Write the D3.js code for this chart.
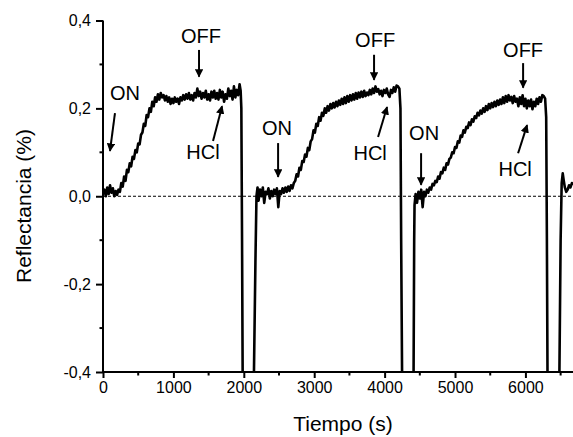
<!DOCTYPE html>
<html>
<head>
<meta charset="utf-8">
<script src="https://cdn.jsdelivr.net/npm/d3@7"></script>
<style>
  body { margin: 0; background: #fff; }
  svg { display: block; font-family: "Liberation Sans", Arial, sans-serif; }
</style>
</head>
<body>
<div id="chart"></div>
<script>
// Reflectance traces, [time (s), reflectance (%)], one array per ON/OFF cycle
const cycle1 = [
  [0, 0.005], [20, 0.015], [40, 0.0], [60, 0.02], [80, 0.005], [100, 0.025], [120, 0.008], [140, 0.018],
  [160, 0.0], [180, 0.012], [200, 0.003], [220, 0.015], [240, 0.01], [260, 0.03], [280, 0.022], [300, 0.045],
  [320, 0.035], [340, 0.06], [360, 0.055], [380, 0.075], [400, 0.068], [420, 0.09], [440, 0.085], [460, 0.105],
  [480, 0.1], [500, 0.12], [520, 0.118], [540, 0.14], [560, 0.145], [580, 0.165], [600, 0.16], [620, 0.185],
  [640, 0.18], [660, 0.2], [680, 0.192], [700, 0.215], [720, 0.205], [740, 0.225], [760, 0.215], [780, 0.232],
  [800, 0.22], [820, 0.235], [840, 0.225], [860, 0.23], [880, 0.218], [900, 0.228], [920, 0.215], [940, 0.225],
  [960, 0.21], [980, 0.222], [1000, 0.212], [1020, 0.225], [1040, 0.215], [1060, 0.222], [1080, 0.21], [1100, 0.225],
  [1120, 0.218], [1140, 0.23], [1160, 0.22], [1180, 0.232], [1200, 0.222], [1220, 0.235], [1240, 0.22], [1260, 0.23],
  [1280, 0.218], [1300, 0.235], [1320, 0.225], [1340, 0.245], [1360, 0.228], [1380, 0.238], [1400, 0.222], [1420, 0.235],
  [1440, 0.225], [1460, 0.24], [1480, 0.22], [1500, 0.232], [1520, 0.218], [1540, 0.238], [1560, 0.225], [1580, 0.24],
  [1600, 0.222], [1620, 0.235], [1640, 0.22], [1660, 0.242], [1680, 0.225], [1700, 0.238], [1720, 0.215], [1740, 0.232],
  [1760, 0.222], [1780, 0.245], [1800, 0.228], [1820, 0.24], [1840, 0.22], [1860, 0.25], [1880, 0.225], [1900, 0.242],
  [1920, 0.23], [1940, 0.255], [1955, 0.24], [1965, 0.2], [1975, -0.1], [1985, -0.45]
];
const cycle2 = [
  [2140, -0.45], [2165, -0.15], [2180, 0.0], [2195, 0.02], [2210, -0.01], [2230, 0.015], [2250, 0.0], [2270, 0.02],
  [2290, -0.015], [2310, 0.01], [2330, 0.005], [2350, 0.018], [2370, -0.005], [2390, 0.012], [2410, 0.0], [2430, 0.015],
  [2450, 0.005], [2470, 0.018], [2490, -0.025], [2510, 0.012], [2530, 0.005], [2550, 0.018], [2570, 0.008], [2590, 0.02],
  [2610, 0.01], [2630, 0.022], [2650, 0.012], [2670, 0.025], [2690, 0.018], [2710, 0.03], [2730, 0.035], [2750, 0.05],
  [2770, 0.045], [2790, 0.065], [2810, 0.06], [2830, 0.08], [2850, 0.078], [2870, 0.095], [2890, 0.09], [2910, 0.11],
  [2930, 0.105], [2950, 0.125], [2970, 0.13], [2990, 0.15], [3010, 0.145], [3030, 0.165], [3050, 0.16], [3070, 0.18],
  [3090, 0.172], [3110, 0.19], [3130, 0.183], [3150, 0.2], [3170, 0.19], [3190, 0.205], [3210, 0.195], [3230, 0.21],
  [3250, 0.2], [3270, 0.212], [3290, 0.202], [3310, 0.215], [3330, 0.205], [3350, 0.218], [3370, 0.208], [3390, 0.222],
  [3410, 0.21], [3430, 0.225], [3450, 0.212], [3470, 0.228], [3490, 0.215], [3510, 0.23], [3530, 0.218], [3550, 0.232],
  [3570, 0.22], [3590, 0.235], [3610, 0.222], [3630, 0.236], [3650, 0.225], [3670, 0.238], [3690, 0.226], [3710, 0.24],
  [3730, 0.228], [3750, 0.236], [3770, 0.23], [3790, 0.242], [3810, 0.232], [3830, 0.245], [3850, 0.235], [3870, 0.25],
  [3890, 0.238], [3910, 0.244], [3930, 0.232], [3950, 0.24], [3970, 0.228], [3990, 0.242], [4010, 0.235], [4030, 0.245],
  [4050, 0.232], [4070, 0.226], [4090, 0.242], [4110, 0.235], [4130, 0.248], [4150, 0.238], [4170, 0.252], [4190, 0.25],
  [4210, 0.245], [4225, 0.2], [4235, -0.1], [4250, -0.45]
];
const cycle3 = [
  [4410, -0.45], [4420, -0.1], [4425, -0.02], [4440, 0.005], [4460, -0.015], [4480, 0.01], [4500, -0.005], [4520, 0.015],
  [4540, -0.025], [4560, 0.01], [4580, 0.0], [4600, 0.015], [4620, 0.008], [4640, 0.02], [4660, 0.015], [4680, 0.028],
  [4700, 0.025], [4720, 0.035], [4740, 0.032], [4760, 0.045], [4780, 0.04], [4800, 0.055], [4820, 0.052], [4840, 0.065],
  [4860, 0.06], [4880, 0.075], [4900, 0.072], [4920, 0.085], [4940, 0.088], [4960, 0.1], [4980, 0.098], [5000, 0.112],
  [5020, 0.11], [5040, 0.125], [5060, 0.122], [5080, 0.138], [5100, 0.135], [5120, 0.15], [5140, 0.145], [5160, 0.158],
  [5180, 0.155], [5200, 0.168], [5220, 0.162], [5240, 0.175], [5260, 0.17], [5280, 0.182], [5300, 0.178], [5320, 0.19],
  [5340, 0.184], [5360, 0.195], [5380, 0.188], [5400, 0.2], [5420, 0.192], [5440, 0.205], [5460, 0.196], [5480, 0.21],
  [5500, 0.2], [5520, 0.212], [5540, 0.203], [5560, 0.215], [5580, 0.205], [5600, 0.218], [5620, 0.208], [5640, 0.22],
  [5660, 0.21], [5680, 0.225], [5700, 0.212], [5720, 0.228], [5740, 0.215], [5760, 0.23], [5780, 0.218], [5800, 0.226],
  [5820, 0.212], [5840, 0.228], [5860, 0.215], [5880, 0.222], [5900, 0.205], [5920, 0.225], [5940, 0.21], [5960, 0.23],
  [5980, 0.205], [6000, 0.222], [6020, 0.2], [6040, 0.218], [6060, 0.205], [6080, 0.22], [6100, 0.198], [6120, 0.215],
  [6140, 0.205], [6160, 0.222], [6180, 0.21], [6200, 0.225], [6220, 0.215], [6240, 0.23], [6260, 0.228], [6280, 0.222],
  [6295, 0.18], [6305, -0.1], [6315, -0.45]
];
const cycle4 = [
  [6480, -0.45], [6500, -0.1], [6515, 0.03], [6530, 0.052], [6545, 0.035], [6560, 0.02], [6580, 0.01], [6600, 0.015],
  [6620, 0.025], [6640, 0.02], [6660, 0.03], [6680, 0.028], [6700, 0.032]
];

const xTicks = [0, 1000, 2000, 3000, 4000, 5000, 6000];
const xMinorTicks = [500, 1500, 2500, 3500, 4500, 5500, 6500];
const yTicks = [-0.4, -0.2, 0, 0.2, 0.4];
const yMinorTicks = [-0.3, -0.1, 0.1, 0.3];

// annotations: label at [t, v], arrow from -> to (data units)
const labels = [
  { text: "ON",  at: [313, 0.219],  from: [170, 0.189],  to: [99, 0.103] },
  { text: "OFF", at: [1392, 0.349], from: [1364, 0.333], to: [1364, 0.272] },
  { text: "HCl", at: [1421, 0.085], from: [1563, 0.126], to: [1691, 0.205] },
  { text: "ON",  at: [2472, 0.139], from: [2487, 0.121], to: [2487, 0.044] },
  { text: "OFF", at: [3865, 0.340], from: [3850, 0.322], to: [3850, 0.265] },
  { text: "HCl", at: [3794, 0.083], from: [3907, 0.135], to: [4035, 0.203] },
  { text: "ON",  at: [4561, 0.128], from: [4518, 0.098], to: [4518, 0.026] },
  { text: "OFF", at: [5967, 0.317], from: [5967, 0.303], to: [5967, 0.247] },
  { text: "HCl", at: [5854, 0.046], from: [5896, 0.098], to: [6024, 0.162] }
];

const W = 573, H = 437;
const plotLeft = 103, plotRight = 574, plotTop = 20.5, plotBottom = 372;

const svg = d3.select("#chart").append("svg")
    .attr("width", W)
    .attr("height", H);

const x = d3.scaleLinear().domain([0, 6690]).range([plotLeft, plotRight]);
const y = d3.scaleLinear().domain([-0.4, 0.4]).range([plotBottom, plotTop]);

const fmt = d3.formatLocale({ decimal: ",", thousands: ".", grouping: [3], currency: ["", ""], minus: "-" }).format(".1f");

const defs = svg.append("defs");
defs.append("clipPath").attr("id", "plot")
    .append("rect")
    .attr("x", plotLeft).attr("y", plotTop)
    .attr("width", plotRight - plotLeft).attr("height", plotBottom - plotTop);

defs.append("marker")
    .attr("id", "head")
    .attr("viewBox", "0 0 10 10")
    .attr("refX", 9).attr("refY", 5)
    .attr("markerWidth", 4.2).attr("markerHeight", 4.2)
    .attr("markerUnits", "strokeWidth")
    .attr("orient", "auto")
    .append("path")
    .attr("d", "M0,0 L10,5 L0,10 Z")
    .attr("fill", "#000");

// zero reference line
svg.append("line")
    .attr("x1", x(0)).attr("x2", plotRight)
    .attr("y1", y(0)).attr("y2", y(0))
    .attr("stroke", "#000")
    .attr("stroke-width", 1)
    .attr("stroke-dasharray", "3,2");

// traces
const line = d3.line().x(d => x(d[0])).y(d => y(d[1]));
svg.append("g")
    .attr("clip-path", "url(#plot)")
    .selectAll("path")
    .data([cycle1, cycle2, cycle3, cycle4])
    .enter().append("path")
    .attr("d", line)
    .attr("fill", "none")
    .attr("stroke", "#000")
    .attr("stroke-width", 2.6)
    .attr("stroke-linejoin", "round");

// axes
const xAxis = svg.append("g").attr("transform", `translate(0,${plotBottom})`);
xAxis.call(d3.axisBottom(x).tickValues(xTicks).tickSize(6).tickPadding(4).tickFormat(d3.format("d")));
xAxis.append("g").selectAll("line")
    .data(xMinorTicks)
    .enter().append("line")
    .attr("x1", d => x(d)).attr("x2", d => x(d))
    .attr("y1", 0).attr("y2", 3.5)
    .attr("stroke", "#000").attr("stroke-width", 2);

const yAxis = svg.append("g").attr("transform", `translate(${plotLeft},0)`);
yAxis.call(d3.axisLeft(y).tickValues(yTicks).tickSize(7).tickPadding(5).tickFormat(fmt));
yAxis.append("g").selectAll("line")
    .data(yMinorTicks)
    .enter().append("line")
    .attr("x1", 0).attr("x2", -3.5)
    .attr("y1", d => y(d)).attr("y2", d => y(d))
    .attr("stroke", "#000").attr("stroke-width", 2);

xAxis.select(".domain").attr("d", `M${plotLeft},0H${plotRight}`).attr("stroke-width", 2);
yAxis.select(".domain").attr("d", `M0,${plotTop}V${plotBottom}`).attr("stroke-width", 2);
svg.selectAll(".tick line").attr("stroke-width", 2);
svg.selectAll(".tick text").attr("font-size", 16).attr("fill", "#000");
xAxis.attr("font-family", null);
yAxis.attr("font-family", null);

// axis titles
svg.append("text")
    .attr("x", 343)
    .attr("y", 431)
    .attr("text-anchor", "middle")
    .attr("font-size", 21)
    .text("Tiempo (s)");

svg.append("text")
    .attr("transform", "translate(31,206) rotate(-90)")
    .attr("text-anchor", "middle")
    .attr("font-size", 21)
    .text("Reflectancia (%)");

// ON / OFF / HCl annotations
const ann = svg.append("g");
ann.selectAll("text")
    .data(labels)
    .enter().append("text")
    .attr("x", d => x(d.at[0]))
    .attr("y", d => y(d.at[1]))
    .attr("text-anchor", "middle")
    .attr("font-size", 20)
    .text(d => d.text);

ann.selectAll("line")
    .data(labels)
    .enter().append("line")
    .attr("x1", d => x(d.from[0])).attr("y1", d => y(d.from[1]))
    .attr("x2", d => x(d.to[0])).attr("y2", d => y(d.to[1]))
    .attr("stroke", "#000")
    .attr("stroke-width", 2)
    .attr("marker-end", "url(#head)");
</script>
</body>
</html>
